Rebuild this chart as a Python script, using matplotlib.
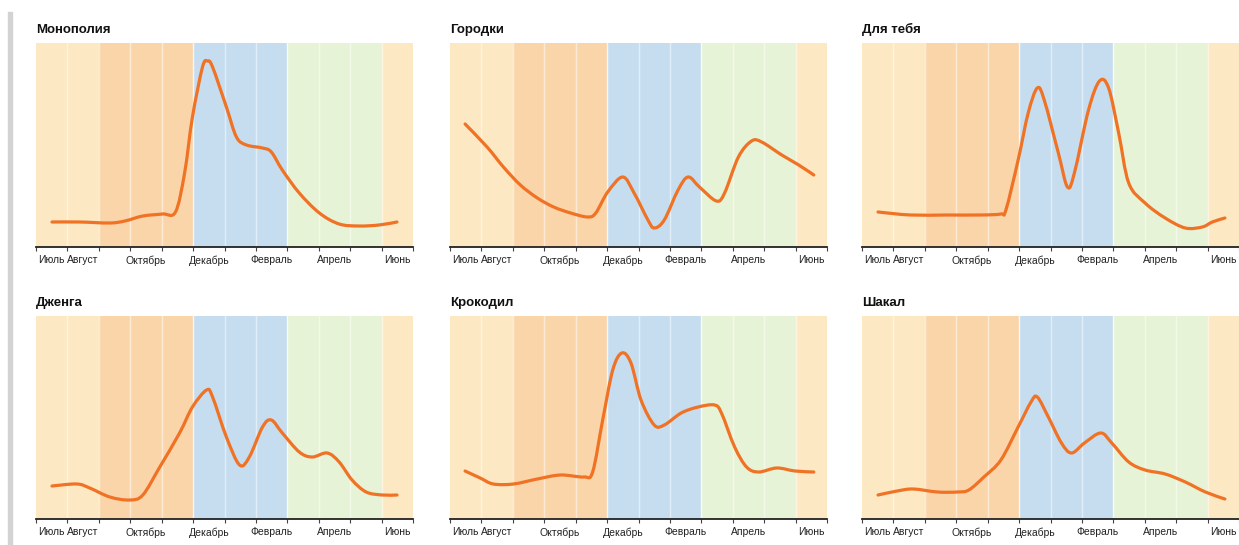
import matplotlib
matplotlib.use("Agg")
import matplotlib.pyplot as plt
from matplotlib.patches import Rectangle, PathPatch
from matplotlib.path import Path

plt.rcParams['font.family'] = ['Liberation Sans Narrow', 'Liberation Sans', 'DejaVu Sans']

# month labels (x axis goes from July to June, 12 months)
tick_pos = [0.5, 1.5, 3.5, 5.5, 7.5, 9.5, 11.5]
tick_labels = ["Июль", "Август", "Октябрь", "Декабрь", "Февраль", "Апрель", "Июнь"]

# data: month position / relative popularity
monopoly_x = [0.51, 1.40, 2.35, 2.83, 3.40, 4.03, 4.44, 4.73, 4.98, 5.30, 5.46, 5.62, 6.06,
              6.38, 6.70, 7.21, 7.49, 7.84, 8.38, 9.02, 9.65, 10.29, 10.92, 11.49]
monopoly_y = [25, 25, 24, 26, 31, 33, 35, 74, 130, 180, 186, 180, 140,
              110, 102, 99, 95, 77, 54, 34, 23, 21, 22, 25]

gorodki_x = [0.48, 1.18, 1.70, 2.24, 2.78, 3.30, 3.84, 4.38, 4.64, 5.02, 5.50, 5.86, 6.30,
             6.50, 6.82, 7.26, 7.58, 7.94, 8.48, 8.74, 9.18, 9.60, 9.92, 10.56, 11.10, 11.58]
gorodki_y = [123, 100, 80, 62, 49, 40, 34, 30, 34, 55, 70, 54, 27,
             19, 27, 57, 70, 60, 46, 54, 90, 106, 105, 92, 82, 72]

foryou_x = [0.51, 1.54, 2.72, 3.78, 4.42, 4.58, 4.97, 5.29, 5.58, 5.80, 6.25, 6.54, 6.76,
            7.21, 7.56, 7.85, 8.17, 8.49, 9.01, 9.65, 10.29, 10.83, 11.15, 11.55]
foryou_y = [35, 32, 32, 32, 33, 37, 87, 134, 159, 147, 94, 60, 74,
            137, 166, 159, 114, 64, 44, 29, 19, 20, 25, 29]

jenga_x = [0.51, 1.30, 1.71, 2.35, 2.98, 3.40, 3.94, 4.57, 4.98, 5.43, 5.62, 6.06, 6.48,
           6.79, 7.21, 7.49, 7.84, 8.38, 8.79, 9.27, 9.65, 10.06, 10.51, 11.02, 11.49]
jenga_y = [33, 35, 31, 22, 19, 24, 52, 86, 112, 129, 122, 82, 54,
           62, 92, 99, 86, 67, 62, 66, 57, 39, 27, 24, 24]

croc_x = [0.48, 0.96, 1.38, 2.02, 2.78, 3.52, 4.26, 4.54, 4.86, 5.18, 5.47, 5.76, 6.08,
          6.50, 6.82, 7.36, 7.90, 8.42, 8.64, 9.06, 9.44, 9.82, 10.40, 10.98, 11.58]
croc_y = [48, 41, 35, 35, 40, 44, 42, 47, 99, 149, 166, 156, 119,
          94, 94, 106, 112, 114, 106, 72, 52, 47, 51, 48, 47]

jackal_x = [0.51, 1.12, 1.63, 2.40, 3.04, 3.40, 3.88, 4.42, 4.97, 5.38, 5.58, 5.93, 6.35,
            6.67, 7.08, 7.60, 7.95, 8.49, 9.01, 9.65, 10.29, 10.93, 11.55]
jackal_y = [24, 28, 30, 27, 27, 29, 42, 59, 92, 117, 122, 102, 76,
            66, 76, 86, 76, 57, 49, 45, 37, 27, 20]

titles = ["Монополия", "Городки", "Для тебя", "Дженга", "Крокодил", "Шакал"]
series_x = [monopoly_x, gorodki_x, foryou_x, jenga_x, croc_x, jackal_x]
series_y = [monopoly_y, gorodki_y, foryou_y, jenga_y, croc_y, jackal_y]

# season colours per month, July..June
YELLOW = "#fde8c4"
ORANGE = "#fbd5aa"
BLUE = "#c6ddf0"
GREEN = "#e7f3d6"
month_colors = [YELLOW, YELLOW, ORANGE, ORANGE, ORANGE, BLUE, BLUE, BLUE,
                GREEN, GREEN, GREEN, YELLOW]
LINE = "#f07224"


# smooth path through the points (catmull-rom drawn as bezier segments)
def smooth_path(xs, ys):
    pts = list(zip(xs, ys))
    verts = [pts[0]]
    codes = [Path.MOVETO]
    n = len(pts)
    for k in range(n - 1):
        p0 = pts[k - 1] if k > 0 else pts[k]
        p1 = pts[k]
        p2 = pts[k + 1]
        p3 = pts[k + 2] if k + 2 < n else pts[k + 1]
        c1 = (p1[0] + (p2[0] - p0[0]) / 6, p1[1] + (p2[1] - p0[1]) / 6)
        c2 = (p2[0] - (p3[0] - p1[0]) / 6, p2[1] - (p3[1] - p1[1]) / 6)
        verts += [c1, c2, p2]
        codes += [Path.CURVE4] * 3
    return Path(verts, codes)


fig = plt.figure(figsize=(12.39, 5.45), dpi=100)

# grey bar on the left edge
fig.patches.append(Rectangle((8 / 1239, 0), 4 / 1239, 533 / 545, transform=fig.transFigure,
                             color="#d3d3d3", zorder=0))

lefts = [36, 450, 862]
rows = [(247, 204), (519, 203)]
W = 377

for i in range(6):
    r, c = divmod(i, 3)
    bottom_px, h = rows[r]
    ax = fig.add_axes([lefts[c] / 1239, (545 - bottom_px) / 545, W / 1239, h / 545])

    for m, col in enumerate(month_colors):
        ax.axvspan(m, m + 1, color=col, lw=0, zorder=0)
    for m in range(1, 12):
        ax.axvline(m, color="white", lw=1.0, alpha=0.8 if m in (5, 8) else 0.5, zorder=1)

    ax.add_patch(PathPatch(smooth_path(series_x[i], series_y[i]), facecolor="none",
                           edgecolor=LINE, lw=2.3, joinstyle="round", capstyle="round",
                           zorder=3))

    ax.set_xlim(0, 12)
    ax.set_ylim(0, h)
    for s in ["top", "left", "right"]:
        ax.spines[s].set_visible(False)
    ax.spines["bottom"].set_color("#222222")
    ax.spines["bottom"].set_linewidth(1.3)
    ax.set_yticks([])

    ax.set_xticks(range(13))
    ax.set_xticklabels([])
    ax.tick_params(axis="x", which="major", length=3, width=0.8, color="#444444")
    ax.set_xticks(tick_pos, minor=True)
    ax.set_xticklabels(tick_labels, minor=True, fontsize=7.5, color="#222222")
    ax.tick_params(axis="x", which="minor", length=0, pad=6)

    ax.text(0, 1.065, titles[i], transform=ax.transAxes, fontsize=9.5,
            fontweight="bold", color="#111111", ha="left", va="center")

fig.savefig("out.png", dpi=100)
